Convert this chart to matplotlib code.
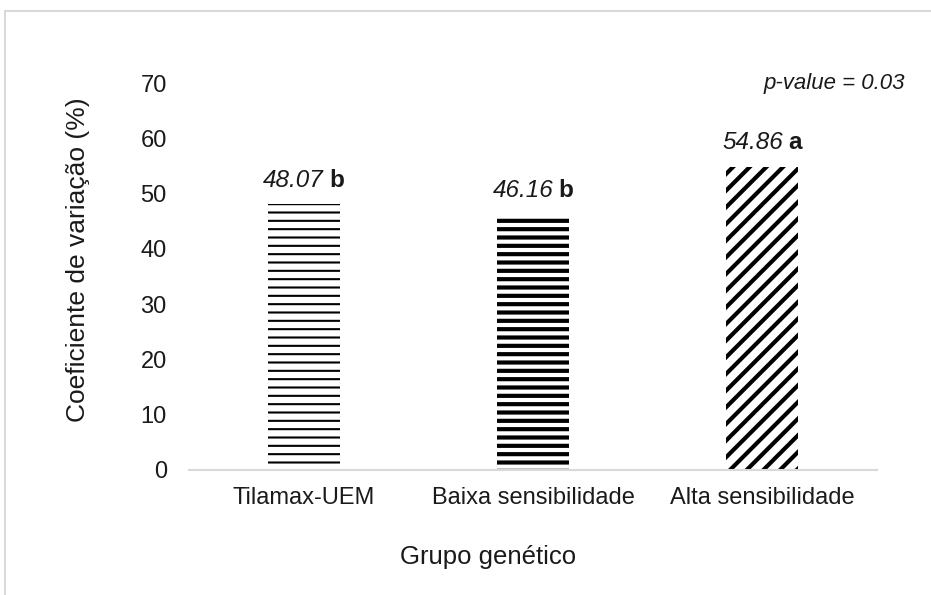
import matplotlib
matplotlib.use("Agg")
import matplotlib.pyplot as plt
from matplotlib.patches import Rectangle
from matplotlib.offsetbox import TextArea, HPacker, AnnotationBbox

plt.rcParams['font.family'] = ['Liberation Sans', 'DejaVu Sans']

categories = ["Tilamax-UEM", "Baixa sensibilidade", "Alta sensibilidade"]
values = [48.07, 46.16, 54.86]
value_labels = ["48.07", "46.16", "54.86"]
letters = ["b", "b", "a"]
hatches = ["--", "--", "//"]
hatch_lws = [1.5, 3.0, 3.0]
yticks = [0, 10, 20, 30, 40, 50, 60, 70]

W, H = 931, 595
fig = plt.figure(figsize=(W / 100, H / 100), dpi=100)
ax = fig.add_axes([189 / W, 1 - 470 / H, (877 - 189) / W, (470 - 83) / H])

for i, (v, h, lw) in enumerate(zip(values, hatches, hatch_lws)):
    with plt.rc_context({'hatch.linewidth': lw}):
        b = ax.bar(i, v, width=0.314, color='white', edgecolor='black',
                   linewidth=0, hatch=h)
    for p in b:
        if hasattr(p, 'set_hatch_linewidth'):
            p.set_hatch_linewidth(lw)

for i, (v, vl, l) in enumerate(zip(values, value_labels, letters)):
    t1 = TextArea(vl, textprops=dict(fontsize=17.5, style='italic', color='#1a1a1a'))
    t2 = TextArea(l, textprops=dict(fontsize=17.5, fontweight='bold', color='#1a1a1a'))
    pk = HPacker(children=[t1, t2], pad=0, sep=4, align='baseline')
    ab = AnnotationBbox(pk, (i, v), xybox=(0, 9), xycoords='data',
                        boxcoords='offset points', box_alignment=(0.5, 0),
                        frameon=False, pad=0)
    ax.add_artist(ab)

ax.set_xlim(-0.5, 2.5)
ax.set_ylim(0, 70)
ax.set_yticks(yticks)
ax.set_xticks(range(len(categories)))
ax.set_xticklabels(categories)
ax.tick_params(axis='both', length=0, labelsize=17, colors='#1a1a1a')
ax.tick_params(axis='x', pad=12)
ax.tick_params(axis='y', pad=16)
for s in ['top', 'right', 'left']:
    ax.spines[s].set_visible(False)
ax.spines['bottom'].set_color('#d9d9d9')
ax.spines['bottom'].set_linewidth(1.5)

fig.text(488 / W, 1 - 557 / H, "Grupo genético", ha='center', va='center',
         fontsize=18.5, color='#1a1a1a')
fig.text(78 / W, 1 - 260 / H, "Coeficiente de variação (%)", ha='center',
         va='center', rotation=90, fontsize=19, color='#1a1a1a')
fig.text(905 / W, 1 - 84 / H, "p-value = 0.03", ha='right', va='center',
         fontsize=16, style='italic', color='#1a1a1a')

fig.patches.append(Rectangle((5 / W, -0.1), 1.2, (1 - 11 / H) + 0.1,
                             transform=fig.transFigure, fill=False,
                             edgecolor='#d9d9d9', linewidth=1.5))

fig.savefig("out.png", dpi=100)
